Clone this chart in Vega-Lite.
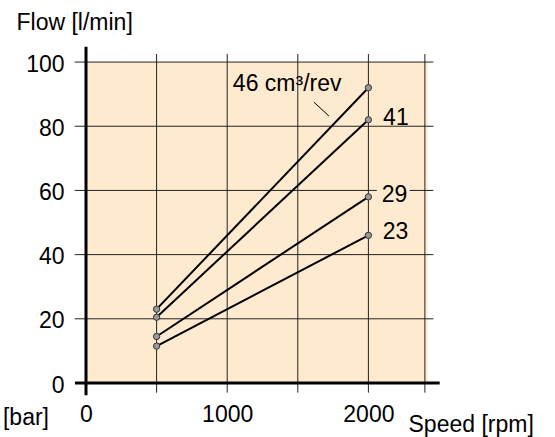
{
  "$schema": "https://vega.github.io/schema/vega-lite/v6.json",
  "width": 353,
  "height": 337,
  "autosize": "none",
  "padding": {"left": 86, "top": 46, "right": 116, "bottom": 54},
  "background": "white",
  "config": {"view": {"stroke": null}, "font": "Liberation Sans"},
  "datasets": {
    "bg": [{"rpm": 0, "rpm2": 2420, "flow": 0, "flow2": 100}],
    "hgrid": [
      {"flow": 20, "rpm": -80, "rpm2": 2460},
      {"flow": 40, "rpm": -80, "rpm2": 2460},
      {"flow": 60, "rpm": -80, "rpm2": 2060},
      {"flow": 60, "rpm": 2292, "rpm2": 2460},
      {"flow": 80, "rpm": -80, "rpm2": 2460},
      {"flow": 100, "rpm": -80, "rpm2": 2460}
    ],
    "vgrid": [
      {"rpm": 500, "flow": -3, "flow2": 102.5},
      {"rpm": 1000, "flow": -3, "flow2": 102.5},
      {"rpm": 1500, "flow": -3, "flow2": 102.5},
      {"rpm": 2000, "flow": -3, "flow2": 102.5},
      {"rpm": 2400, "flow": -3, "flow2": 102.5}
    ],
    "axes": [
      {"rpm": -78, "rpm2": 2505, "flow": 0, "flow2": 0},
      {"rpm": 0, "rpm2": 0, "flow": -3.8, "flow2": 104.8}
    ],
    "flows": [
      {"disp": 46, "rpm": 500, "flow": 23},
      {"disp": 46, "rpm": 2000, "flow": 92},
      {"disp": 41, "rpm": 500, "flow": 20.5},
      {"disp": 41, "rpm": 2000, "flow": 82},
      {"disp": 29, "rpm": 500, "flow": 14.5},
      {"disp": 29, "rpm": 2000, "flow": 58},
      {"disp": 23, "rpm": 500, "flow": 11.5},
      {"disp": 23, "rpm": 2000, "flow": 46}
    ],
    "labels": [
      {"rpm": 1040, "flow": 91.1, "label": "46 cm³/rev"},
      {"rpm": 2104, "flow": 80.4, "label": "41"},
      {"rpm": 2094, "flow": 56.5, "label": "29"},
      {"rpm": 2101, "flow": 44.8, "label": "23"},
      {"rpm": -588, "flow": -13.1, "label": "[bar]"}
    ],
    "leader": [{"rpm": 1614, "flow": 87.5, "rpm2": 1720, "flow2": 83.2}]
  },
  "encoding": {
    "x": {
      "field": "rpm", "type": "quantitative",
      "scale": {"domain": [0, 2500], "nice": false, "zero": false},
      "axis": {
        "values": [0, 1000, 2000], "format": "d", "ticks": false, "grid": false, "domain": false,
        "labelPadding": 20.5, "labelFontSize": 23, "labelColor": "black",
        "labelFlush": false, "labelOverlap": false,
        "title": "Speed [rpm]", "titleX": 322, "titleY": 48.5,
        "titleAlign": "left", "titleBaseline": "alphabetic", "titleAnchor": null,
        "titleFontSize": 23, "titleFontWeight": "normal", "titleColor": "black"
      }
    },
    "y": {
      "field": "flow", "type": "quantitative",
      "scale": {"domain": [0, 105], "nice": false, "zero": false},
      "axis": {
        "values": [0, 20, 40, 60, 80, 100], "format": "d", "ticks": false, "grid": false, "domain": false,
        "labelPadding": 22, "labelFontSize": 23, "labelColor": "black",
        "labelBaseline": "alphabetic", "labelOffset": 9,
        "labelFlush": false, "labelOverlap": false,
        "title": "Flow [l/min]", "titleAngle": 0, "titleX": -70, "titleY": -16.7,
        "titleAlign": "left", "titleBaseline": "alphabetic", "titleAnchor": null,
        "titleFontSize": 23, "titleFontWeight": "normal", "titleColor": "black"
      }
    }
  },
  "layer": [
    {
      "data": {"name": "bg"},
      "mark": {"type": "rect", "fill": "#FEEBCF"},
      "encoding": {"x2": {"field": "rpm2"}, "y2": {"field": "flow2"}}
    },
    {
      "data": {"name": "hgrid"},
      "mark": {"type": "rule", "stroke": "#222", "strokeWidth": 1},
      "encoding": {"x2": {"field": "rpm2"}}
    },
    {
      "data": {"name": "vgrid"},
      "mark": {"type": "rule", "stroke": "#222", "strokeWidth": 1},
      "encoding": {"y2": {"field": "flow2"}}
    },
    {
      "data": {"name": "axes"},
      "mark": {"type": "rule", "stroke": "black", "strokeWidth": 3},
      "encoding": {"x2": {"field": "rpm2"}, "y2": {"field": "flow2"}}
    },
    {
      "data": {"name": "leader"},
      "mark": {"type": "rule", "stroke": "black", "strokeWidth": 1},
      "encoding": {"x2": {"field": "rpm2"}, "y2": {"field": "flow2"}}
    },
    {
      "data": {"name": "flows"},
      "mark": {"type": "line", "stroke": "black", "strokeWidth": 2},
      "encoding": {"detail": {"field": "disp"}}
    },
    {
      "data": {"name": "flows"},
      "mark": {"type": "point", "filled": true, "fill": "#999", "stroke": "#333", "strokeWidth": 1, "size": 40, "opacity": 1},
      "encoding": {}
    },
    {
      "data": {"name": "labels"},
      "mark": {"type": "text", "align": "left", "baseline": "alphabetic", "fontSize": 23, "color": "black"},
      "encoding": {"text": {"field": "label"}}
    }
  ]
}
